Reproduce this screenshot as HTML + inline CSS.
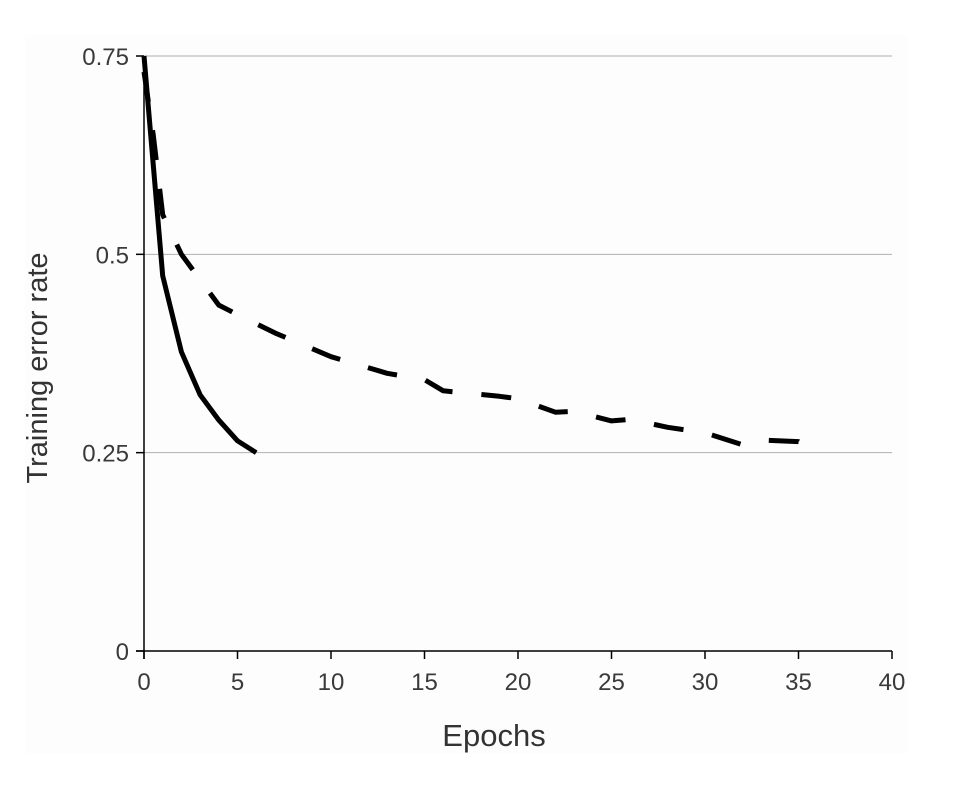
<!DOCTYPE html>
<html><head><meta charset="utf-8"><style>
body{margin:0;background:#fff;}
svg{display:block;font-family:"Liberation Sans",Arial,sans-serif;}
</style></head><body>
<svg width="973" height="787">
<rect x="25" y="35" width="883" height="718" fill="#fdfdfd"/>
<g id="grid"></g><g id="axes"></g><g id="series"></g>
<text x="494" y="746" font-size="31" fill="#333" text-anchor="middle">Epochs</text>
<text transform="translate(47,368) rotate(-90)" font-size="29" fill="#333" text-anchor="middle">Training error rate</text>
</svg>
<script>
const xTicks=[0,5,10,15,20,25,30,35,40];
const yTicks=[0,0.25,0.5,0.75];
const yTickLabels=["0","0.25","0.5","0.75"];
const reluEpochs=[0,1,2,3,4,5,6];
const reluError=[0.75,0.473,0.377,0.323,0.291,0.265,0.25];
const tanhEpochs=[0,0.5,1,2,4,5,7,10,13,15,16,19,20,22,23,25,26,28,30,32,33,35,36];
const tanhError=[0.73,0.65,0.55,0.5,0.436,0.424,0.401,0.371,0.35,0.342,0.328,0.321,0.318,0.301,0.302,0.29,0.292,0.282,0.275,0.26,0.266,0.264,0.25];
const NS="http://www.w3.org/2000/svg";
const X=v=>144+v*(892-144)/40;
const Y=v=>651-v*(651-56)/0.75;
function mk(t,a,p){const e=document.createElementNS(NS,t);for(const k in a)e.setAttribute(k,a[k]);p.appendChild(e);return e;}
const grid=document.getElementById('grid'),axes=document.getElementById('axes'),ser=document.getElementById('series');
yTicks.forEach((v,i)=>{
 if(v>0){const g=mk('line',{x1:144,x2:892,y1:Y(v),y2:Y(v),stroke:'#b0b0b0','stroke-width':1},grid);
 
 }
 const t=mk('line',{x1:136,x2:144,y1:Y(v),y2:Y(v),stroke:'#000','stroke-width':1.5},axes);
 
 
 const l=mk('text',{x:129,y:Y(v)+9,'font-size':24,fill:'#3a3a3a','text-anchor':'end'},axes);l.textContent=yTickLabels[i];
 
 
});
xTicks.forEach(v=>{
 const t=mk('line',{x1:X(v),x2:X(v),y1:651,y2:659,stroke:'#000','stroke-width':1.5},axes);
 
 
 const l=mk('text',{x:X(v),y:690,'font-size':24,fill:'#3a3a3a','text-anchor':'middle'},axes);l.textContent=v;
 
 
});
const ya=mk('line',{x1:144,x2:144,y1:56,y2:659,stroke:'#000','stroke-width':1.5},axes);


const xa=mk('line',{x1:136,x2:892,y1:651,y2:651,stroke:'#000','stroke-width':1.5},axes);


const pts=(xs,ys)=>xs.map((x,i)=>X(x).toFixed(1)+','+Y(ys[i]).toFixed(1)).join(' ');
const d=mk('polyline',{points:pts(tanhEpochs,tanhError),fill:'none',stroke:'#000','stroke-width':5,'stroke-dasharray':'30 29','stroke-linejoin':'round'},ser);


const s=mk('polyline',{points:pts(reluEpochs,reluError),fill:'none',stroke:'#000','stroke-width':5,'stroke-linejoin':'round'},ser);


</script>
</body></html>
